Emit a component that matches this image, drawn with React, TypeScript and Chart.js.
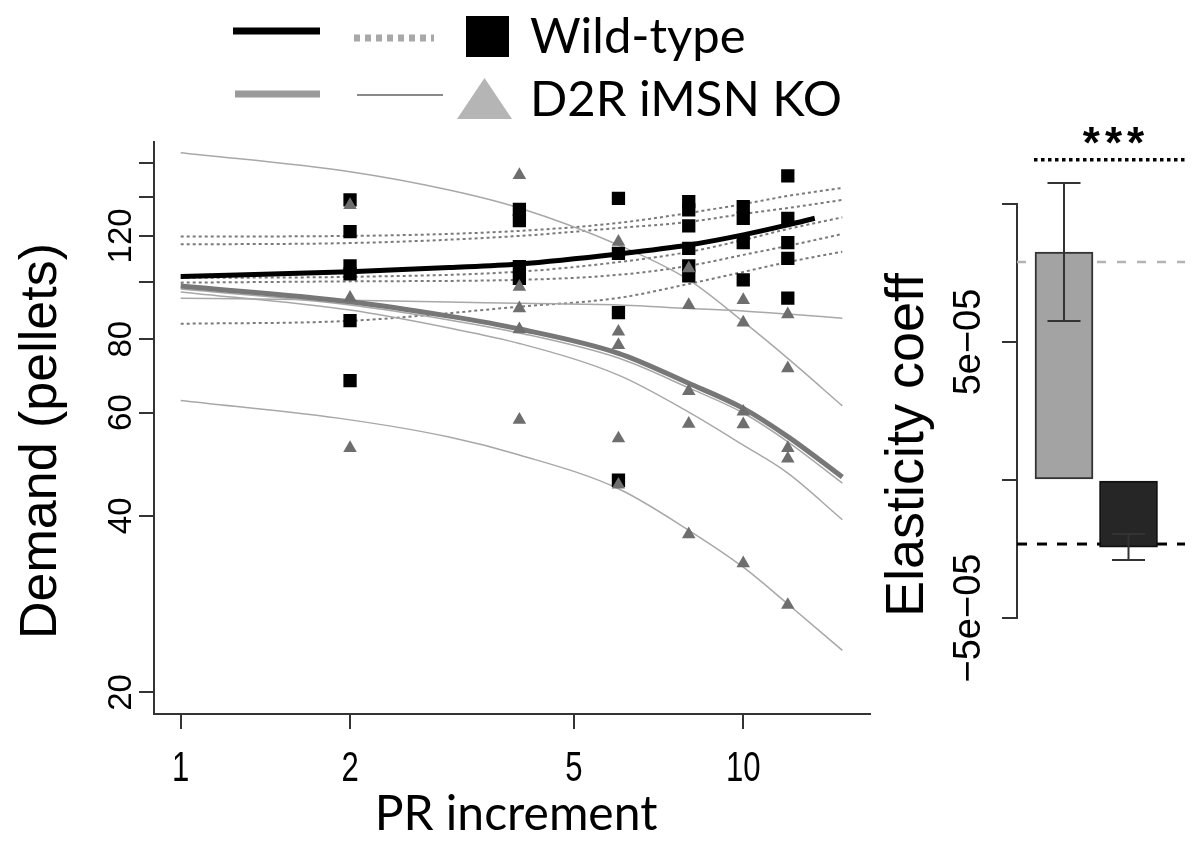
import React, { useEffect, useRef } from 'react';
import { Chart, registerables } from 'chart.js';

Chart.register(...registerables);

// ---------------- Data (left panel: demand curves) ----------------
const prIncrements = [2, 4, 6, 8, 10, 12];
const wildTypeDemand = [
  [138.2, 122.0, 106.7, 103.4, 86.1, 68.0],
  [133.2, 127.4, 106.4, 101.6],
  [139.1, 112.1, 88.8, 46.0],
  [137.3, 132.9, 124.8, 114.3, 106.7, 102.6],
  [134.6, 128.6, 116.9, 101.0],
  [151.9, 128.6, 116.9, 109.9, 94.0],
];
const koDemand = [
  [135.5, 94.1, 52.2],
  [152.4, 98.3, 90.3, 83.2, 58.3],
  [117.3, 82.4, 78.2, 54.2, 45.2],
  [105.7, 91.5, 65.3, 57.4, 37.2],
  [93.3, 85.4, 60.2, 57.3, 33.2],
  [88.2, 71.4, 52.2, 50.1, 28.2],
];

// fitted group curves
const wtMeanX = [1, 2, 3, 4, 6, 8, 10, 12, 13.4];
const wtMeanY = [102.3, 104.3, 106.0, 107.5, 111.8, 115.8, 120.5, 125.3, 128.6];
const koCurveX = [1, 2, 3, 4, 6, 8, 10, 12, 15];
const koMeanY = [98.6, 92.7, 87.6, 83.3, 75.7, 67.3, 61.0, 54.6, 46.6];

// fitted individual curves
const koIndividualY = [
  [166.4, 154.4, 143.7, 133.9, 115.8, 101.0, 85.7, 74.2, 61.6],
  [94.0, 93.2, 92.6, 92.1, 91.5, 90.3, 89.4, 88.3, 86.9],
  [96.3, 89.7, 83.6, 78.7, 69.5, 60.1, 52.8, 47.3, 39.4],
  [97.4, 91.5, 86.3, 82.0, 74.3, 66.1, 59.9, 53.5, 45.5],
  [62.9, 58.3, 54.5, 50.8, 44.5, 37.8, 32.7, 28.3, 23.6],
];
const wtCurveX = [1, 2, 4, 6, 8, 10, 12, 15];
const wtIndividualY = [
  [119.7, 120.0, 122.4, 126.3, 131.3, 136.0, 140.4, 144.9],
  [116.1, 116.7, 120.0, 123.8, 126.8, 130.8, 133.9, 138.2],
  [101.8, 102.2, 104.3, 108.3, 112.7, 118.1, 123.3, 129.1],
  [99.9, 100.4, 101.0, 103.0, 106.7, 111.4, 115.4, 120.9],
  [85.0, 86.0, 90.9, 94.1, 99.4, 104.2, 108.3, 112.8],
];

const demandTicks = [20, 40, 60, 80, 100, 120, 140, 160];
const demandTickLabels = ['20', '40', '60', '80', '', '120', '', ''];
const prTicks = [1, 2, 5, 10];
const prTickLabels = ['1', '2', '5', '10'];
const demandRange = [18.38, 173.7];
const prRange = [0.8965, 16.8];

// ---------------- Data (right panel: elasticity) ----------------
const groups = ['D2R iMSN KO', 'Wild-type'];
const elasticityMean = [8.26e-5, -2.43e-5];
const elasticitySem = [2.5e-5, 0.47e-5];
const elasticityReference = [7.9e-5, -2.32e-5];
const elasticityTicks = [-5e-5, 0, 5e-5, 1e-4];
const elasticityTickLabels = ['\u22125e\u221205', '', '5e\u221205', ''];
const elasticityRange = [-5e-5, 1e-4];
const groupSlots = [1, 2];
const groupSlotRange = [0.2713, 2.8759];
const significanceLabel = '***';
const significanceLevel = 1.16e-4;

// ---------------- helpers ----------------
const RFONT = '"Liberation Sans", Arial, Helvetica, sans-serif';
const LEGFONT = 'Lato, "Open Sans", sans-serif';

function drawText(ctx: CanvasRenderingContext2D, text: string, x: number, y: number, o: any) {
  ctx.save();
  ctx.translate(x, y);
  ctx.scale(o.sx || 1, 1);
  if (o.rotate) ctx.rotate(-Math.PI / 2);
  ctx.font = o.font;
  ctx.fillStyle = o.color || '#000';
  ctx.textAlign = o.align || 'center';
  ctx.textBaseline = o.baseline || 'alphabetic';
  if (o.spacing) (ctx as any).letterSpacing = o.spacing;
  ctx.fillText(text, 0, 0);
  ctx.restore();
}

function seg(ctx: CanvasRenderingContext2D, x1: number, y1: number, x2: number, y2: number) {
  ctx.beginPath();
  ctx.moveTo(x1, y1);
  ctx.lineTo(x2, y2);
  ctx.stroke();
}

const toXY = (xs: number[], ys: number[]) => xs.map((x, i) => ({ x, y: ys[i] }));

function leftConfig(): any {
  const wtPoints = prIncrements.flatMap((x, i) => wildTypeDemand[i].map((y) => ({ x, y })));
  const koPoints = prIncrements.flatMap((x, i) => koDemand[i].map((y) => ({ x, y })));
  const lineBase = { type: 'line', pointRadius: 0, fill: false, cubicInterpolationMode: 'monotone' };

  const decorations = {
    id: 'leftDecor',
    afterDraw(chart: any) {
      const ctx: CanvasRenderingContext2D = chart.ctx;
      const xs = chart.scales.x;
      const ys = chart.scales.y;
      // y tick labels (rotated, R style)
      demandTicks.forEach((v, i) => {
        if (!demandTickLabels[i]) return;
        drawText(ctx, demandTickLabels[i], 131, ys.getPixelForValue(v), { font: `33px ${RFONT}`, rotate: true });
      });
      // x tick labels
      prTicks.forEach((v, i) => {
        drawText(ctx, prTickLabels[i], xs.getPixelForValue(v), 781, { font: `42px ${RFONT}`, sx: 0.74 });
      });
      // axis titles
      drawText(ctx, 'Demand (pellets)', 56, 441, { font: `52px ${RFONT}`, rotate: true });
      drawText(ctx, 'PR increment', 516, 830, { font: `48px ${LEGFONT}` });

      // legend
      ctx.save();
      ctx.lineCap = 'butt';
      ctx.strokeStyle = '#000';
      ctx.lineWidth = 7;
      seg(ctx, 233, 31, 320, 31);
      ctx.strokeStyle = '#a8a8a8';
      ctx.setLineDash([6, 5]);
      seg(ctx, 354, 38, 434, 38);
      ctx.setLineDash([]);
      ctx.strokeStyle = '#9a9a9a';
      ctx.lineWidth = 7;
      seg(ctx, 235, 94, 320, 94);
      ctx.strokeStyle = '#8a8a8a';
      ctx.lineWidth = 2;
      seg(ctx, 357, 95, 443, 95);
      ctx.fillStyle = '#000';
      ctx.fillRect(466, 16, 43, 41);
      ctx.fillStyle = '#b5b5b5';
      ctx.beginPath();
      ctx.moveTo(484.5, 78);
      ctx.lineTo(512, 119);
      ctx.lineTo(457, 119);
      ctx.closePath();
      ctx.fill();
      ctx.restore();
      drawText(ctx, groups[1], 530, 53, { font: `49px ${LEGFONT}`, align: 'left' });
      drawText(ctx, groups[0], 530, 116, { font: `49px ${LEGFONT}`, align: 'left' });
    },
  };

  return {
    type: 'scatter',
    data: {
      datasets: [
        ...wtIndividualY.map((ys) => ({
          ...lineBase,
          data: toXY(wtCurveX, ys),
          borderColor: '#7a7a7a',
          borderWidth: 2,
          borderDash: [3, 3],
          order: 6,
        })),
        ...koIndividualY.map((ys) => ({
          ...lineBase,
          data: toXY(koCurveX, ys),
          borderColor: '#a8a8a8',
          borderWidth: 1.5,
          order: 5,
        })),
        { ...lineBase, data: toXY(koCurveX, koMeanY), borderColor: '#777777', borderWidth: 5, order: 4 },
        { ...lineBase, data: toXY(wtMeanX, wtMeanY), borderColor: '#000000', borderWidth: 5, order: 3 },
        {
          type: 'scatter',
          data: wtPoints,
          pointStyle: 'rect',
          pointRadius: 9.4,
          backgroundColor: '#000',
          borderWidth: 0,
          order: 2,
        },
        {
          type: 'scatter',
          data: koPoints,
          pointStyle: 'triangle',
          pointRadius: 7.8,
          backgroundColor: '#6e6e6e',
          borderWidth: 0,
          order: 1,
        },
      ],
    },
    options: {
      responsive: false,
      animation: false,
      events: [],
      layout: { padding: { left: 139, top: 141.7, right: 10, bottom: 116 } },
      plugins: { legend: { display: false }, tooltip: { enabled: false } },
      scales: {
        x: {
          type: 'logarithmic',
          min: prRange[0],
          max: prRange[1],
          bounds: 'data',
          offset: false,
          afterBuildTicks: (s: any) => {
            s.ticks = prTicks.map((v) => ({ value: v }));
          },
          ticks: { display: false },
          grid: { drawOnChartArea: false, drawTicks: true, tickLength: 15, color: '#333', lineWidth: 2 },
          border: { display: true, color: '#333', width: 2 },
        },
        y: {
          type: 'logarithmic',
          min: demandRange[0],
          max: demandRange[1],
          bounds: 'data',
          offset: false,
          afterBuildTicks: (s: any) => {
            s.ticks = demandTicks.map((v) => ({ value: v }));
          },
          ticks: { display: false },
          grid: { drawOnChartArea: false, drawTicks: true, tickLength: 15, color: '#333', lineWidth: 2 },
          border: { display: true, color: '#333', width: 2 },
        },
      },
    },
    plugins: [decorations],
  };
}

function rightConfig(): any {
  const decorations = {
    id: 'rightDecor',
    afterDatasetsDraw(chart: any) {
      const ctx: CanvasRenderingContext2D = chart.ctx;
      const xs = chart.scales.x;
      const ys = chart.scales.y;
      ctx.save();
      ctx.strokeStyle = '#333';
      ctx.lineWidth = 2;
      groupSlots.forEach((slot, i) => {
        const px = xs.getPixelForValue(slot);
        const top = ys.getPixelForValue(elasticityMean[i] + elasticitySem[i]);
        const bot = ys.getPixelForValue(elasticityMean[i] - elasticitySem[i]);
        seg(ctx, px, top, px, bot);
        seg(ctx, px - 16.5, top, px + 16.5, top);
        seg(ctx, px - 16.5, bot, px + 16.5, bot);
      });
      ctx.restore();
    },
    afterDraw(chart: any) {
      const ctx: CanvasRenderingContext2D = chart.ctx;
      const ys = chart.scales.y;
      const area = chart.chartArea;
      elasticityTicks.forEach((v, i) => {
        if (!elasticityTickLabels[i]) return;
        drawText(ctx, elasticityTickLabels[i], 100, ys.getPixelForValue(v), { font: `38px ${RFONT}`, rotate: true });
      });
      drawText(ctx, 'Elasticity coeff', 43, 445, { font: `54px ${RFONT}`, rotate: true });
      // significance bracket
      const sy = ys.getPixelForValue(significanceLevel);
      ctx.save();
      ctx.strokeStyle = '#000';
      ctx.lineWidth = 3.5;
      ctx.setLineDash([3.5, 3.5]);
      seg(ctx, 154, sy, area.right, sy);
      ctx.restore();
      drawText(ctx, significanceLabel, 236, sy - 2, { font: `bold 44px ${RFONT}`, spacing: '5px' });
    },
  };

  return {
    type: 'bar',
    data: {
      datasets: [
        {
          type: 'bar',
          data: groupSlots.map((x, i) => ({ x, y: elasticityMean[i] })),
          backgroundColor: ['#a3a3a3', '#262626'],
          borderColor: ['#333333', '#111111'],
          borderWidth: 2,
          borderSkipped: false,
          barThickness: 58,
          order: 0,
        },
        {
          type: 'line',
          data: groupSlotRange.map((x) => ({ x, y: elasticityReference[0] })),
          borderColor: '#b3b3b3',
          borderWidth: 2.5,
          borderDash: [9, 11],
          pointRadius: 0,
          order: 2,
        },
        {
          type: 'line',
          data: groupSlotRange.map((x) => ({ x, y: elasticityReference[1] })),
          borderColor: '#000',
          borderWidth: 3,
          borderDash: [10, 10],
          pointRadius: 0,
          order: 1,
        },
      ],
    },
    options: {
      responsive: false,
      animation: false,
      events: [],
      layout: { padding: { left: 122, top: 204, right: 15, bottom: 227 } },
      plugins: { legend: { display: false }, tooltip: { enabled: false } },
      scales: {
        x: {
          type: 'linear',
          min: groupSlotRange[0],
          max: groupSlotRange[1],
          bounds: 'data',
          offset: false,
          display: false,
        },
        y: {
          type: 'linear',
          min: elasticityRange[0],
          max: elasticityRange[1],
          bounds: 'data',
          offset: false,
          afterBuildTicks: (s: any) => {
            s.ticks = elasticityTicks.map((v) => ({ value: v }));
          },
          ticks: { display: false },
          grid: { drawOnChartArea: false, drawTicks: true, tickLength: 15, color: '#333', lineWidth: 2 },
          border: { display: true, color: '#333', width: 2 },
        },
      },
    },
    plugins: [decorations],
  };
}

export default function App() {
  const leftRef = useRef<HTMLCanvasElement>(null);
  const rightRef = useRef<HTMLCanvasElement>(null);

  useEffect(() => {
    document.body.style.margin = '0';
    const left = new Chart(leftRef.current as HTMLCanvasElement, leftConfig());
    const right = new Chart(rightRef.current as HTMLCanvasElement, rightConfig());
    let alive = true;
    const fonts: any = (document as any).fonts;
    if (fonts && fonts.load) {
      Promise.all([fonts.load('48px Lato'), fonts.load('33px "Liberation Sans"')]).then(() => {
        if (alive) {
          left.update();
          right.update();
        }
      });
    }
    return () => {
      alive = false;
      left.destroy();
      right.destroy();
    };
  }, []);

  return (
    <div style={{ position: 'relative', width: 1200, height: 845, background: '#fff', overflow: 'hidden' }}>
      <canvas
        ref={leftRef}
        width={880}
        height={845}
        style={{ position: 'absolute', left: 0, top: 0, width: 880, height: 845 }}
      />
      <canvas
        ref={rightRef}
        width={320}
        height={845}
        style={{ position: 'absolute', left: 880, top: 0, width: 320, height: 845 }}
      />
    </div>
  );
}
